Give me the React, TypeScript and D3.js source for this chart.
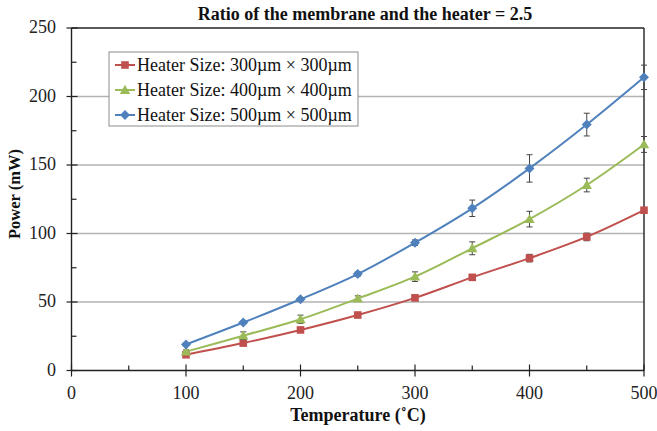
import React from "react";
import * as d3 from "d3";

// Heater power vs. temperature for three heater sizes
const temperatures = [100, 150, 200, 250, 300, 350, 400, 450, 500];

const power300 = [11.5, 20, 29.6, 40.5, 53, 68, 82, 97.5, 117];
const err300 = [1, 1, 1, 1.2, 2, 1.5, 2.8, 2.8, 1.2];

const power400 = [13.8, 25.4, 37.4, 52.5, 68.5, 89.2, 110.5, 135.4, 165];
const err400 = [1.2, 2.8, 3, 2, 3.5, 4.7, 5.7, 5, 5.8];

const power500 = [19, 35, 52, 70.4, 93.3, 118.4, 147.5, 179.5, 214];
const err500 = [1, 1, 1.2, 1.5, 2, 6, 10, 8.3, 8.9];

const seriesNames = [
  "Heater Size: 300\u00b5m \u00d7 300\u00b5m",
  "Heater Size: 400\u00b5m \u00d7 400\u00b5m",
  "Heater Size: 500\u00b5m \u00d7 500\u00b5m",
];
const seriesColors = ["#C0504D", "#9BBB59", "#4F81BD"];
const seriesMarkers = ["square", "triangle", "diamond"];

const xTicks = [0, 100, 200, 300, 400, 500];
const xMinorTicks = [50, 150, 250, 350, 450];
const yTicks = [0, 50, 100, 150, 200, 250];
const yMinorTicks = [25, 75, 125, 175, 225];
const gridValues = [50, 100, 150, 200];

const titleText = "Ratio of the membrane and the heater = 2.5";
const xLabel = "Temperature (\u02daC)";
const yLabel = "Power (mW)";

const W = 657;
const H = 431;
const left = 71.5;
const right = 644;
const top = 28;
const bottom = 370.5;
const FONT = "'Liberation Serif', 'Times New Roman', serif";

const x = d3.scaleLinear().domain([0, 500]).range([left, right]);
const y = d3.scaleLinear().domain([0, 250]).range([bottom, top]);

const line = d3
  .line<[number, number]>()
  .x((d) => x(d[0]))
  .y((d) => y(d[1]))
  .curve(d3.curveCatmullRom.alpha(0.5));

function Marker({ kind, cx, cy, color }: { kind: string; cx: number; cy: number; color: string }) {
  if (kind === "square") {
    return <rect x={cx - 3.8} y={cy - 3.8} width={7.6} height={7.6} fill={color} />;
  }
  if (kind === "triangle") {
    const s = 5.2;
    return (
      <path
        d={`M${cx},${cy - s} L${cx + s},${cy + s * 0.75} L${cx - s},${cy + s * 0.75}Z`}
        fill={color}
      />
    );
  }
  const s = 5;
  return (
    <path d={`M${cx},${cy - s} L${cx + s},${cy} L${cx},${cy + s} L${cx - s},${cy}Z`} fill={color} />
  );
}

export default function App() {
  const allSeries = [
    { values: power300, errors: err300 },
    { values: power400, errors: err400 },
    { values: power500, errors: err500 },
  ];

  const legendX = 109;
  const legendY = 52;
  const legendW = 249;
  const legendH = 74;
  const rowY = [65, 90, 115];

  return (
    <svg
      width={W}
      height={H}
      style={{ position: "absolute", left: 0, top: 0, background: "#fff" }}
      fontFamily={FONT}
    >
      <rect width={W} height={H} fill="#fff" />

      {/* gridlines */}
      {gridValues.map((v) => (
        <line key={v} x1={left} x2={right} y1={y(v)} y2={y(v)} stroke="#b3b3b3" strokeWidth={1.4} />
      ))}

      {/* frame: top and right */}
      <line x1={left} x2={right} y1={top} y2={top} stroke="#222" strokeWidth={1.4} />
      <line x1={right} x2={right} y1={top} y2={bottom} stroke="#222" strokeWidth={1.4} />

      {/* series */}
      {allSeries.map((s, i) => {
        const pts = temperatures.map((t, j) => [t, s.values[j]] as [number, number]);
        return (
          <g key={i}>
            <path d={line(pts) || ""} fill="none" stroke={seriesColors[i]} strokeWidth={2} />
            {temperatures.map((t, j) => {
              const cx = x(t);
              const hi = y(s.values[j] + s.errors[j]);
              const lo = y(s.values[j] - s.errors[j]);
              return (
                <g key={j} stroke="#444" strokeWidth={1}>
                  <line x1={cx} x2={cx} y1={hi} y2={lo} />
                  <line x1={cx - 3} x2={cx + 3} y1={hi} y2={hi} />
                  <line x1={cx - 3} x2={cx + 3} y1={lo} y2={lo} />
                </g>
              );
            })}
            {temperatures.map((t, j) => (
              <Marker
                key={j}
                kind={seriesMarkers[i]}
                cx={x(t)}
                cy={y(s.values[j])}
                color={seriesColors[i]}
              />
            ))}
          </g>
        );
      })}

      {/* y axis */}
      <line x1={left} x2={left} y1={top} y2={bottom} stroke="#222" strokeWidth={1.4} />
      {yTicks.map((v) => (
        <g key={v}>
          <line x1={left - 5} x2={left + 6} y1={y(v)} y2={y(v)} stroke="#222" strokeWidth={1.2} />
          <text x={56} y={y(v)} dy="0.3em" textAnchor="end" fontSize={18} fill="#222">
            {v}
          </text>
        </g>
      ))}
      {yMinorTicks.map((v) => (
        <line key={v} x1={left} x2={left + 5} y1={y(v)} y2={y(v)} stroke="#222" strokeWidth={1.2} />
      ))}

      {/* x axis */}
      <line x1={left} x2={right} y1={bottom} y2={bottom} stroke="#222" strokeWidth={1.4} />
      {xTicks.map((v) => (
        <g key={v}>
          <line x1={x(v)} x2={x(v)} y1={bottom - 6} y2={bottom + 6} stroke="#222" strokeWidth={1.2} />
          <text x={x(v)} y={bottom + 28.5} textAnchor="middle" fontSize={18} fill="#222">
            {v}
          </text>
        </g>
      ))}
      {xMinorTicks.map((v) => (
        <line key={v} x1={x(v)} x2={x(v)} y1={bottom - 5} y2={bottom} stroke="#222" strokeWidth={1.2} />
      ))}

      {/* titles */}
      <text x={365} y={20} textAnchor="middle" fontSize={18} fontWeight="bold" fill="#111">
        {titleText}
      </text>
      <text x={358} y={421} textAnchor="middle" fontSize={18} fontWeight="bold" fill="#111">
        {xLabel}
      </text>
      <text
        transform={`translate(20, 194) rotate(-90)`}
        textAnchor="middle"
        fontSize={16.5}
        fontWeight="bold"
        fill="#111"
      >
        {yLabel}
      </text>

      {/* legend */}
      <rect
        x={legendX}
        y={legendY}
        width={legendW}
        height={legendH}
        fill="#fff"
        stroke="#8c8c8c"
        strokeWidth={1}
      />
      {seriesNames.map((name, i) => (
        <g key={i}>
          <line x1={115} x2={135} y1={rowY[i]} y2={rowY[i]} stroke={seriesColors[i]} strokeWidth={2} />
          <Marker kind={seriesMarkers[i]} cx={125} cy={rowY[i]} color={seriesColors[i]} />
          <text x={137} y={rowY[i]} dy="0.33em" fontSize={18} fill="#111">
            {name}
          </text>
        </g>
      ))}
    </svg>
  );
}
